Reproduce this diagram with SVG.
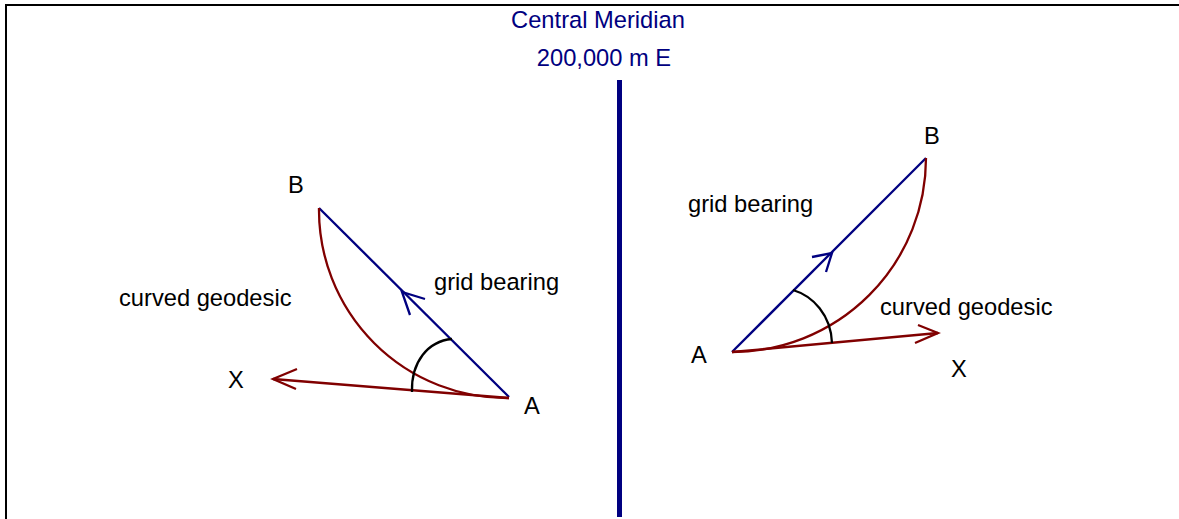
<svg xmlns="http://www.w3.org/2000/svg" width="1179" height="519" viewBox="0 0 1179 519">
<style>
text{font-family:"Liberation Sans",Arial,sans-serif;font-size:23.7px;fill:#000}
.t{fill:#000080}
.b{stroke:#000080;stroke-width:2.3;fill:none}
.r{stroke:#800000;stroke-width:2.3;fill:none}
.k{stroke:#000;stroke-width:2.3;fill:none}
</style>
<rect width="1179" height="519" fill="#fff"/>
<path d="M6,519 V5 H1179" stroke="#000" stroke-width="2" fill="none"/>
<g id="meridian">
<line x1="619.5" y1="80" x2="619.5" y2="517" stroke="#000080" stroke-width="5"/>
<text class="t" x="598" y="28" text-anchor="middle">Central Meridian</text>
<text class="t" x="604" y="66" text-anchor="middle">200,000 m E</text>
</g>
<g id="connectors">
<g id="left-connectors">
<line class="b" x1="509" y1="397" x2="319" y2="208"/>
<polyline class="b" points="425,299 402,292 410,315"/>
<path class="r" d="M319,208 A188,188 0 0 0 509,398"/>
<line class="r" x1="509" y1="398" x2="273" y2="379"/>
<polyline class="r" points="297,369 273,379 296,389"/>
<path class="k" d="M412,392 C411,362 428,341 452,339"/>
</g>
<g id="right-connectors">
<line class="b" x1="732" y1="352" x2="926" y2="158"/>
<polyline class="b" points="812,257 832,253 826,272"/>
<path class="r" d="M732,352 A194,194 0 0 0 926,158"/>
<line class="r" x1="732" y1="352" x2="938" y2="333"/>
<polyline class="r" points="918,325 938,333 915,343"/>
<path class="k" d="M793,290 C813,296 831,315 832,343"/>
</g>
</g>
<g id="left-B"><text x="288" y="193">B</text></g>
<g id="left-A"><text x="524" y="414">A</text></g>
<g id="left-X"><text x="228" y="388">X</text></g>
<g id="left-grid"><text x="434" y="290">grid bearing</text></g>
<g id="left-geodesic"><text x="119" y="306">curved geodesic</text></g>
<g id="right-B"><text x="924" y="144">B</text></g>
<g id="right-A"><text x="691" y="363">A</text></g>
<g id="right-X"><text x="951" y="377">X</text></g>
<g id="right-grid"><text x="688" y="212">grid bearing</text></g>
<g id="right-geodesic"><text x="880" y="315">curved geodesic</text></g>
</svg>
